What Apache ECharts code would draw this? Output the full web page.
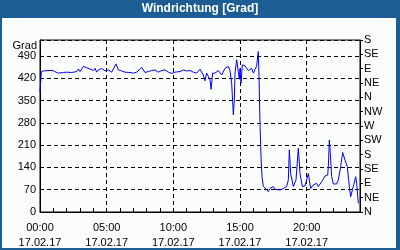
<!DOCTYPE html>
<html>
<head>
<meta charset="utf-8">
<script src="https://cdn.jsdelivr.net/npm/echarts@6/dist/echarts.min.js"></script>
<style>
html,body{margin:0;padding:0;background:#fff;}
#c{width:400px;height:250px;}
</style>
</head>
<body>
<div id="c"></div>
<script>
const titleText = 'Windrichtung [Grad]';
const yName = 'Grad';
const xTickLabels = ['00:00','05:00','10:00','15:00','20:00'];
const dateLabel = '17.02.17';
const dirLabels = ['N','NE','E','SE','S','SW','W','NW','N','NE','E','SE','S'];

const hours = [0,0.1,0.3,0.6,0.9,1.1,1.25,1.375,1.5,1.75,2,2.375,2.5,2.75,2.875,3,3.25,3.5,3.75,3.875,
4,4.125,4.25,4.375,4.625,4.875,5.125,5.375,5.5,5.7,5.875,6.125,6.375,6.75,7,7.25,7.375,7.625,7.875,8.125,
8.375,8.625,8.875,9.125,9.375,9.625,9.75,9.875,10.125,10.5,10.75,11,11.25,11.5,11.75,12,12.125,12.25,12.375,12.5,
12.625,12.75,12.83,12.95,13.125,13.375,13.625,13.875,14.125,14.25,14.375,14.45,14.5,14.575,14.625,14.75,14.875,14.95,15,15.075,
15.175,15.375,15.625,15.75,15.875,16,16.125,16.25,16.325,16.375,16.425,16.5,16.575,16.65,16.75,17,17.125,17.25,17.5,17.625,
17.75,18,18.25,18.375,18.5,18.625,18.7,18.8,19,19.2,19.375,19.5,19.675,19.875,20,20.125,20.2,20.3,20.5,20.75,
20.875,21.125,21.375,21.575,21.625,21.7,21.775,21.875,22,22.25,22.375,22.55,22.7,22.875,23.05,23.2,23.3,23.5,23.675,23.75,
23.875];
const directions = [376,441,443,444,445,441,446,436,441,438,439,438,433,441,449,441,457,453,449,453,
444,451,439,446,451,443,446,439,441,465,446,443,439,438,436,439,433,454,438,441,
444,446,439,444,446,439,441,435,439,441,446,443,444,439,436,448,451,430,412,436,
432,415,385,436,436,444,430,451,457,444,404,347,305,352,436,478,483,417,451,404,
462,459,444,441,451,436,448,457,488,504,425,279,174,111,80,71,64,74,80,71,
69,69,74,69,80,101,195,121,80,101,200,121,80,82,78,121,127,74,85,90,
80,95,113,116,142,226,184,111,88,88,101,142,187,163,142,80,48,80,111,90,
27];

const seriesData = hours.map((h, i) => [h, directions[i]]);
const font = 'Liberation Sans, Arial, sans-serif';
const blue = '#1c5e94';

const chart = echarts.init(document.getElementById('c'), null, {renderer:'canvas'});
chart.setOption({
  animation: false,
  backgroundColor: blue,
  title: {
    text: titleText, left: 'center', top: 3, padding: 0,
    textStyle: {color:'#ffffff', fontSize: 12, fontWeight: 'bold', fontFamily: font}
  },
  graphic: [
    {type:'rect', silent:true, z:-100, shape:{x:2, y:18, width:394, height:230}, style:{fill:'#fbfdfb'}},
    {type:'text', silent:true, z:10, x:37, y:46, style:{text:yName, fill:'#000', font:'11px ' + font, textAlign:'right', textVerticalAlign:'middle'}}
  ],
  grid: {left:40, top:40, width:320, height:172, show:true, borderColor:'#000', borderWidth:1, backgroundColor:'transparent'},
  xAxis: {
    type:'value', min:0, max:24, interval:5,
    axisLine:{show:true, lineStyle:{color:'#000', width:1}},
    axisTick:{show:true, inside:true, length:4, lineStyle:{color:'#000'}},
    minorTick:{show:true, splitNumber:5, length:4, lineStyle:{color:'#000'}},
    splitLine:{show:true, lineStyle:{color:'#000', type:[4,3], width:1}},
    axisLabel:{
      color:'#000', fontSize:11, fontFamily:font, margin:8, lineHeight:15, showMaxLabel:false,
      formatter: v => (xTickLabels[v/5] !== undefined ? xTickLabels[v/5] + '\n' + dateLabel : '')
    }
  },
  yAxis: [
    {
      type:'value', min:0, max:540, interval:70,
      axisLine:{show:true, lineStyle:{color:'#000'}},
      axisTick:{show:false},
      splitLine:{show:true, lineStyle:{color:'#000', type:[4,3], width:1}},
      axisLabel:{color:'#000', fontSize:11, fontFamily:font, margin:4, showMaxLabel:false}
    },
    {
      type:'value', min:0, max:540, interval:45, position:'right',
      axisLine:{show:true, lineStyle:{color:'#000'}},
      axisTick:{show:true, inside:false, length:3, lineStyle:{color:'#000'}},
      splitLine:{show:false},
      axisLabel:{color:'#000', fontSize:11, fontFamily:font, margin:4,
        formatter: v => dirLabels[Math.round(v/45)] || ''}
    }
  ],
  series: [{
    type:'line', data:seriesData, yAxisIndex:0, showSymbol:false, symbol:'none',
    lineStyle:{color:'#0000ff', width:1}, z:5
  }]
});
</script>
</body>
</html>
